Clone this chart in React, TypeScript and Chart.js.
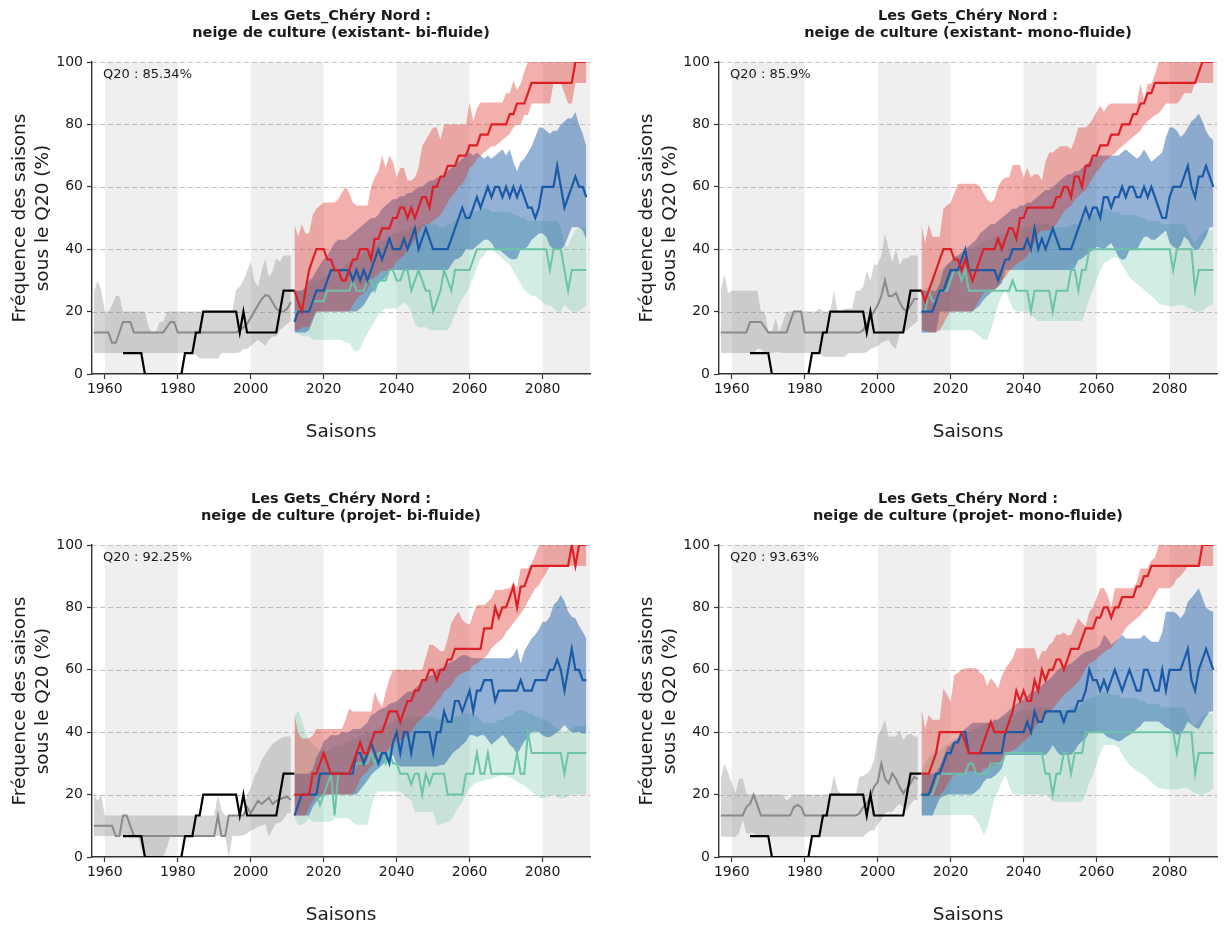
import React, { useEffect, useRef } from "react";
import { Chart, registerables } from "chart.js";

Chart.register(...registerables);

const FONT = "'DejaVu Sans', 'Liberation Sans', sans-serif";

const HIST_START = 1957;
const OBS_START = 1965;
const PROJ_START = 2012;
const X_MIN = 1956.5;
const X_MAX = 2093;
const X_TICKS = [1960, 1980, 2000, 2020, 2040, 2060, 2080];
const Y_TICKS = [0, 20, 40, 60, 80, 100];
const Y_GRID = [20, 40, 60, 80, 100];
const SHADED_PERIODS = [[1960, 1980], [2000, 2020], [2040, 2060], [2080, 2100]];

const TITLE_LINE_1 = "Les Gets_Chéry Nord :";
const SUBTITLES = [
  "neige de culture (existant- bi-fluide)",
  "neige de culture (existant- mono-fluide)",
  "neige de culture (projet- bi-fluide)",
  "neige de culture (projet- mono-fluide)",
];
const Q20_LABELS = ["Q20 : 85.34%", "Q20 : 85.9%", "Q20 : 92.25%", "Q20 : 93.63%"];
const Y_TITLE = ["Fréquence des saisons", "sous le Q20 (%)"];
const X_TITLE = "Saisons";

// Observed frequency (1965-2012)
const OBS = [
  6.7, 6.7, 6.7, 6.7, 6.7,
  6.7, 0, 0, 0, 0, 0, 0, 0, 0, 0,
  0, 0, 6.7, 6.7, 6.7, 13.3, 13.3, 20, 20, 20,
  20, 20, 20, 20, 20, 20, 20, 13.3, 20, 13.3,
  13.3, 13.3, 13.3, 13.3, 13.3, 13.3, 13.3, 13.3, 20, 26.7,
  26.7, 26.7, 26.7,
];

// ---------- Panel 1 : existant bi-fluide ----------
const P1_HIST = [
  13.3, 13.3, 13.3,
  13.3, 13.3, 10, 10, 13.3, 16.7, 16.7, 16.7, 13.3, 13.3,
  13.3, 13.3, 13.3, 13.3, 13.3, 13.3, 13.3, 15, 16.7, 16.7,
  13.3, 13.3, 13.3, 13.3, 13.3, 13.3, 13.3, 13.3, 13.3, 13.3,
  13.3, 13.3, 13.3, 13.3, 13.3, 13.3, 13.3, 14, 15, 16,
  18, 20, 22, 24, 25.3, 25, 23, 21, 20, 20,
  21, 23,
];
const P1_HIST_HI = [
  26, 30, 27,
  20, 20, 22, 25, 25, 20, 20, 20, 20, 20,
  20, 20, 15, 13.3, 13.3, 16.7, 16.7, 20, 20, 20,
  20, 20, 20, 20, 20, 20, 20, 20, 20, 20,
  20, 20, 20, 20, 20, 20, 27, 28, 30, 33,
  36, 30, 28, 33, 37, 31, 33, 37, 36, 38,
  38, 38,
];
const P1_HIST_LO = [
  6.7, 6.7, 6.7,
  6.7, 6.7, 6.7, 6.7, 6.7, 6.7, 6.7, 6.7, 6.7, 6.7,
  6.7, 6.7, 6.7, 6.7, 6.7, 6.7, 6.7, 6.7, 6.7, 6.7,
  6.7, 6.7, 6.7, 6.7, 6.7, 6, 5, 5, 5, 5,
  5, 5, 6.7, 6.7, 6.7, 6.7, 6.7, 7, 8, 8,
  9, 10, 11, 10, 9, 11, 12, 12, 14, 15,
  16, 17,
];
const P1_RED = [
  26.7, 23.3, 20, 26.7, 33.3, 36.7, 40, 40,
  40, 36.7, 36.7, 33.3, 33.3, 30, 30, 33.3, 36.7, 36.7,
  40, 40, 40, 36.7, 43.3, 43.3, 46.7, 46.7, 46.7, 50,
  50, 53.3, 53.3, 50, 53.3, 50, 53.3, 56.7, 56.7, 53.3,
  60, 60, 63.3, 63.3, 66.7, 66.7, 66.7, 70, 70, 70,
  73.3, 73.3, 73.3, 76.7, 76.7, 76.7, 80, 80, 80, 80,
  80, 83.3, 83.3, 86.7, 86.7, 86.7, 90, 93.3, 93.3, 93.3,
  93.3, 93.3, 93.3, 93.3, 93.3, 93.3, 93.3, 93.3, 93.3, 100,
  100, 100, 100,
];
const P1_RED_HI = [
  48, 44, 48, 45, 45, 51, 53, 54,
  55, 55, 55, 55, 56, 58, 60, 58, 55, 54,
  54, 54, 54, 60, 63, 65, 70, 66, 70, 68,
  63, 66, 66, 62, 62, 63, 66, 73, 75, 77,
  79, 79, 75, 80, 80, 80, 80, 80, 80, 80,
  87, 81, 85, 87, 87, 87, 87, 87, 87, 87,
  90, 90, 94, 91, 93, 97, 100, 100, 100, 100,
  100, 100, 100, 100, 100, 100, 100, 100, 100, 100,
  100, 100, 100,
];
const P1_RED_LO = [
  14, 14, 15, 15, 15, 18, 20, 20,
  20, 20, 20, 20, 20, 20, 20, 20, 22, 24,
  25, 26, 27, 30, 31, 32, 33, 33, 33, 34,
  36, 37, 38, 40, 41, 43, 45, 47, 48, 48,
  49, 50, 51, 53, 55, 57, 58, 60, 61, 63,
  66, 67, 69, 70, 71, 72, 73, 73, 74, 75,
  76, 77, 79, 80, 80, 83, 83, 86.7, 86.7, 86.7,
  86.7, 86.7, 86.7, 93.3, 93.3, 93.3, 90, 86.7, 86.7, 93.3,
  93.3, 93.3, 93.3,
];
const P1_BLUE = [
  16.7, 20, 20, 20, 20, 23.3, 26.7, 26.7,
  26.7, 30, 33.3, 33.3, 33.3, 33.3, 33.3, 33.3, 30, 33.3,
  30, 33.3, 30, 33.3, 36.7, 40, 36.7, 40, 43.3, 40,
  40, 40, 43.3, 40, 43.3, 46.7, 40, 43.3, 46.7, 43.3,
  40, 40, 40, 40, 40, 43.3, 46.7, 50, 53.3, 50,
  50, 53.3, 56.7, 53.3, 56.7, 60, 56.7, 60, 60, 56.7,
  60, 56.7, 60, 56.7, 60, 56.7, 53.3, 53.3, 50, 53.3,
  60, 60, 60, 60, 66.7, 60, 53.3, 56.7, 60, 63.3,
  60, 60, 56.7,
];
const P1_BLUE_HI = [
  26.7, 26.7, 26.7, 28, 30, 31, 33, 35,
  36.7, 38, 40, 42, 43, 43, 43, 44, 45, 46,
  47, 48, 49, 50, 50, 51, 53, 54, 55, 56,
  56, 57, 57, 58, 58, 59, 60, 60, 61, 62,
  62, 63, 63, 64, 65, 66, 67, 68, 69, 70,
  71, 70, 71, 70, 69, 70, 69, 70, 71, 72,
  70, 72, 68, 65, 68, 69, 71, 73, 76, 79,
  79, 78, 77, 78, 78, 80, 81, 82, 82, 84,
  80, 77, 73,
];
const P1_BLUE_LO = [
  13.3, 13.3, 13.3, 13.3, 14, 17, 20, 20,
  20, 20, 20, 20, 20, 20, 20, 20, 20, 20,
  21, 22, 24, 26, 27, 29, 30, 31, 33.3, 33.3,
  33.3, 33.3, 33.3, 33.3, 33.3, 33.3, 33.3, 33.3, 33.3, 33.3,
  33.3, 33.3, 33.3, 33.3, 33.3, 35, 36.7, 37, 38, 40,
  40, 40, 41, 42, 43, 43, 42, 40, 40, 39,
  38, 37, 36.7, 37, 40, 40, 41, 43, 44, 45,
  45, 44, 41, 40, 40, 40, 41, 44, 47, 47,
  47, 46, 43,
];
const P1_TEAL = [
  20, 20, 20, 20, 20, 23.3, 23.3, 23.3,
  23.3, 26.7, 26.7, 26.7, 26.7, 26.7, 26.7, 26.7, 30, 26.7,
  26.7, 26.7, 30, 30, 26.7, 30, 30, 30, 33.3, 33.3,
  30, 30, 33.3, 33.3, 26.7, 30, 33.3, 30, 26.7, 26.7,
  20, 23.3, 26.7, 33.3, 30, 26.7, 33.3, 33.3, 33.3, 33.3,
  33.3, 36.7, 40, 40, 40, 40, 40, 40, 40, 40,
  40, 40, 40, 40, 40, 40, 40, 40, 40, 40,
  40, 40, 33.3, 40, 40, 40, 33.3, 26.7, 33.3, 33.3,
  33.3, 33.3, 33.3,
];
const P1_TEAL_HI = [
  26.7, 26.7, 26.7, 27, 28, 30, 30, 30,
  31, 32, 33, 33, 33, 34, 35, 36, 36, 37,
  38, 39, 40, 40, 41, 42, 43, 43, 44, 45,
  45, 45, 46, 46, 47, 47, 47, 48, 48, 48,
  48, 48, 47, 47, 48, 48, 49, 50, 51, 51,
  52, 52, 52, 53, 53, 53, 52, 52, 52, 52,
  52, 52, 51, 51, 50, 50, 49, 49, 49, 49,
  49, 49, 49, 49, 49, 47, 41, 41, 44, 46,
  47, 47, 46,
];
const P1_TEAL_LO = [
  13.3, 13, 12, 12, 12, 11, 11, 11,
  11, 11, 11, 11, 11, 11, 10, 10, 8, 7,
  8, 11, 13, 15, 17, 19, 20, 21, 21, 21,
  21, 22, 23, 22, 20, 16, 15, 15, 15, 14,
  14, 14, 14, 14, 14, 16, 19, 22, 24, 26,
  28, 31, 34, 37, 38, 40, 40, 39, 38, 37,
  36, 35, 33, 31, 29, 27, 26, 25, 25, 24,
  23, 22, 22, 21, 20, 20, 22, 21, 20, 20,
  20, 21, 22,
];

// ---------- Panel 2 : existant mono-fluide ----------
const P2_HIST = [
  13.3, 13.3, 13.3,
  13.3, 13.3, 13.3, 13.3, 13.3, 16.7, 16.7, 16.7, 16.7, 15,
  13.3, 13.3, 13.3, 13.3, 13.3, 13.3, 16.7, 20, 20, 20,
  13.3, 13.3, 13.3, 13.3, 13.3, 13.3, 13.3, 13.3, 13.3, 13.3,
  13.3, 13.3, 13.3, 13.3, 13.3, 13.3, 14, 16, 18, 20,
  22, 25, 30, 25, 25, 26, 23, 21, 20, 22,
  24, 24,
];
const P2_HIST_HI = [
  27, 32, 26,
  26.7, 26.7, 26.7, 26.7, 26.7, 26.7, 26.7, 26.7, 20, 20,
  14, 13.3, 18, 13.3, 16.7, 20, 20, 20, 20, 20,
  20, 20, 20, 20, 21, 20, 20, 20, 26.7, 20,
  20, 21, 21, 21, 26.7, 26.7, 28, 33, 30, 35,
  35, 38, 45, 40, 36, 40, 35, 37, 37, 38,
  38, 38,
];
const P2_HIST_LO = [
  6.7, 6.7, 6.7,
  6.7, 6.7, 6.7, 6.7, 6.7, 6.7, 6.7, 8, 8, 6.7,
  6.7, 6.7, 7, 7, 6.7, 6.7, 6.7, 6.7, 6.7, 6.7,
  6.7, 6.7, 6.7, 6.7, 6.7, 5.5, 5.5, 5.5, 5.5, 5.5,
  5.5, 5.5, 6.7, 6.7, 6.7, 6.7, 6.7, 7, 8, 8.5,
  9, 10, 10.5, 11, 9, 8, 13, 13.5, 14, 15,
  16, 17,
];
const P2_RED = [
  26.7, 23.3, 26.7, 30, 33.3, 36.7, 40, 40,
  40, 36.7, 36.7, 33.3, 36.7, 33.3, 30, 33.3, 36.7, 40,
  40, 40, 40, 43.3, 40, 43.3, 46.7, 46.7, 43.3, 50,
  50, 53.3, 53.3, 53.3, 53.3, 53.3, 53.3, 53.3, 53.3, 56.7,
  56.7, 60, 60, 56.7, 63.3, 63.3, 60, 66.7, 66.7, 70,
  70, 73.3, 73.3, 73.3, 76.7, 76.7, 76.7, 80, 80, 80,
  83.3, 83.3, 86.7, 86.7, 90, 90, 93.3, 93.3, 93.3, 93.3,
  93.3, 93.3, 93.3, 93.3, 93.3, 93.3, 93.3, 93.3, 96.7, 100,
  100, 100, 100,
];
const P2_RED_HI = [
  48, 42, 48, 44, 44, 44, 53, 54,
  55, 58, 61, 61, 61, 61, 61, 61, 60, 58,
  56, 55, 56, 60, 62, 63, 63, 67, 67, 67,
  63, 66, 63, 64, 64, 62, 68, 71, 71, 72,
  73, 73, 73, 72, 75, 79, 79, 79, 80, 82,
  84, 86, 84, 86, 86.7, 86.7, 86.7, 86.7, 86.7, 86.7,
  86.7, 86.7, 93, 88, 93, 93, 96, 100, 100, 100,
  100, 100, 100, 100, 100, 100, 100, 100, 100, 100,
  100, 100, 100,
];
const P2_RED_LO = [
  14, 14, 13.3, 13.3, 13.3, 14, 16, 18.4,
  20, 20, 20, 20, 20, 20, 20, 22, 24, 26,
  27, 27, 27, 28, 30, 31, 33, 34, 35, 36,
  36.5, 38, 39.7, 42, 45, 46, 46, 46, 47, 48,
  50, 52, 53, 54, 55.8, 57, 58, 59, 61, 63,
  65, 66, 68, 69, 70, 70.7, 72, 73, 74, 75,
  76, 77, 78, 80, 81, 82, 83, 83.5, 85, 86.7,
  86.7, 86.7, 86.7, 88, 90, 90, 90, 93.3, 93.3, 93.3,
  93.3, 93.3, 93.3,
];
const P2_BLUE = [
  20, 20, 20, 20, 23.3, 26.7, 26.7, 30,
  33.3, 33.3, 33.3, 36.7, 40, 33.3, 33.3, 33.3, 33.3, 33.3,
  33.3, 33.3, 33.3, 30, 33.3, 36.7, 36.7, 40, 40, 40,
  40, 43.3, 40, 46.7, 40, 43.3, 40, 43.3, 46.7, 43.3,
  40, 40, 40, 40, 43.3, 46.7, 50, 53.3, 50, 53.3,
  53.3, 50, 56.7, 56.7, 53.3, 56.7, 56.7, 60, 56.7, 60,
  60, 56.7, 56.7, 60, 56.7, 60, 56.7, 53.3, 50, 50,
  56.7, 60, 60, 60, 63.3, 66.7, 60, 56.7, 63.3, 63.3,
  66.7, 63.3, 60,
];
const P2_BLUE_HI = [
  26.7, 26.7, 26.7, 26.7, 26.7, 29, 33.3, 35,
  36, 37.6, 38, 39, 40, 41, 42, 43, 45, 46,
  47, 48, 48, 49, 50, 51, 52, 53, 53, 54,
  54, 55, 55, 56, 57, 58, 59, 59, 60, 61,
  62, 63, 64, 64, 65, 65, 66, 67, 68, 69,
  70, 70, 70, 70, 70, 70, 70, 71, 72, 71,
  70, 69, 70, 72, 70, 68, 69, 70, 71, 76,
  79, 79, 78, 76, 77, 79, 81, 82, 83.5, 81,
  78, 76, 75,
];
const P2_BLUE_LO = [
  13.3, 13.3, 13.3, 13.3, 13.3, 20, 20, 20,
  20, 20, 20, 20, 20, 20, 20, 21, 22, 23.7,
  25, 26, 27, 28, 29, 33.3, 33.3, 33.3, 33.3, 33.3,
  33.3, 33.3, 33.3, 33.3, 33.3, 33.3, 33.3, 33.3, 33.3, 33.3,
  33.3, 33.3, 33.3, 33.3, 34, 36.5, 37, 38, 39, 39.7,
  40.8, 40.5, 39.7, 41, 41.9, 40, 37.6, 36.5, 37, 39.7,
  39.7, 39.7, 42, 44, 44, 43, 43, 44, 45, 46,
  42, 40.8, 40, 41, 44, 43, 41, 39.7, 40, 42,
  44, 47, 47,
];
const P2_TEAL = [
  20, 20, 26.7, 23.3, 23.3, 26.7, 26.7, 26.7,
  30, 33.3, 33.3, 30, 33.3, 26.7, 26.7, 26.7, 26.7, 26.7,
  26.7, 26.7, 26.7, 26.7, 26.7, 26.7, 26.7, 30, 26.7, 26.7,
  26.7, 26.7, 20, 26.7, 26.7, 26.7, 26.7, 26.7, 20, 26.7,
  26.7, 26.7, 26.7, 33.3, 33.3, 26.7, 33.3, 33.3, 40, 40,
  40, 40, 40, 40, 40, 40, 40, 40, 40, 40,
  40, 40, 40, 40, 40, 40, 40, 40, 40, 40,
  40, 33.3, 40, 40, 40, 40, 40, 26.7, 33.3, 33.3,
  33.3, 33.3, 33.3,
];
const P2_TEAL_HI = [
  26.7, 27, 28, 30, 32, 33, 34, 35,
  36, 37, 38, 38, 39, 40, 40, 41, 42, 42,
  43, 43, 44, 44, 45, 45, 46, 46, 46, 47,
  47, 47, 47, 48, 48, 48, 48, 48, 47, 47,
  47, 47, 47, 48, 48, 48, 49, 50, 51, 51,
  52, 52, 53, 53, 52, 52, 52, 51, 51, 51,
  51, 51, 50, 50, 49, 49, 49, 49, 48, 48,
  48, 48, 48, 48, 48, 46, 43, 42, 44, 45,
  46, 46, 46,
];
const P2_TEAL_LO = [
  13.3, 13.3, 13.3, 14, 14, 14, 14, 14,
  14, 14, 14, 14, 14, 14, 14, 13, 12, 11,
  11, 14, 18, 22, 25, 27, 24, 21, 20, 20,
  20, 20, 19, 18, 17, 17, 17, 17, 17, 17,
  17, 17, 17, 17, 17, 17, 17, 20, 24, 27,
  30, 33, 35.5, 36, 37, 37.6, 37, 35, 33, 31,
  30, 29, 28, 27, 26, 25, 24, 22.6, 22, 22,
  21.6, 21.6, 22, 22, 22, 21, 21, 20, 20, 20,
  21, 22, 22,
];

// ---------- Panel 3 : projet bi-fluide ----------
const P3_HIST = [
  10, 10, 10,
  10, 10, 10, 6.7, 6.7, 13.3, 13.3, 10, 6.7, 6.7,
  6.7, 6.7, 6.7, 6.7, 6.7, 6.7, 6.7, 6.7, 6.7, 6.7,
  6.7, 6.7, 6.7, 6.7, 6.7, 6.7, 6.7, 6.7, 6.7, 6.7,
  6.7, 13.3, 6.7, 6.7, 13.3, 13.3, 13.3, 13.3, 13.3, 16,
  14, 16, 18, 17, 18, 19, 17, 18, 18.5, 19,
  19.3, 18.3,
];
const P3_HIST_HI = [
  20, 18, 20,
  13.3, 13.3, 13.3, 13.3, 13.3, 13.3, 13.3, 13.3, 13.3, 13.3,
  13.3, 13.3, 13.3, 13.3, 13.3, 13.3, 13.3, 13.3, 13.3, 13.3,
  13.3, 13.3, 13.3, 13.3, 13.3, 13.3, 13.3, 13.3, 13.3, 13.3,
  13.3, 20, 15, 13.3, 13.3, 13.3, 13.3, 13.3, 13.3, 20,
  22, 25.7, 28, 31, 33, 34.5, 36.4, 37, 38, 38.5,
  38.6, 38.6,
];
const P3_HIST_LO = [
  6.7, 6.7, 6.7,
  6.7, 6.7, 6.7, 6.7, 6.7, 6.7, 6.7, 6.7, 6.7, 6.7,
  3, 0, 0, 0, 0, 0, 0, 3, 6.7, 6.7,
  6.7, 6.7, 6.7, 6.7, 6.7, 6.7, 6.7, 6.7, 6.7, 6.7,
  6.7, 6.7, 6.7, 6.7, 0, 6.7, 6.7, 6.7, 7, 7.5,
  8.5, 9, 9.7, 10, 10.5, 6.5, 9, 10.8, 11, 12,
  14, 14,
];
const P3_RED = [
  20, 20, 20, 20, 20, 26.7, 26.7, 30,
  33.3, 30, 26.7, 26.7, 26.7, 26.7, 26.7, 26.7, 30, 33.3,
  36.7, 33.3, 33.3, 36.7, 40, 40, 40, 43.3, 46.7, 46.7,
  46.7, 43.3, 46.7, 50, 50, 53.3, 53.3, 56.7, 56.7, 60,
  60, 56.7, 60, 60, 63.3, 63.3, 66.7, 66.7, 66.7, 66.7,
  66.7, 66.7, 66.7, 66.7, 73.3, 73.3, 73.3, 80, 76.7, 80,
  80, 83.3, 86.7, 80, 86.7, 86.7, 90, 93.3, 93.3, 93.3,
  93.3, 93.3, 93.3, 93.3, 93.3, 93.3, 93.3, 93.3, 100, 93.3,
  100, 100, 100,
];
const P3_RED_HI = [
  45.5, 40, 38, 38, 38, 39, 41, 41,
  41, 41, 41, 41, 41, 41, 44, 47.6, 46.6, 46.6,
  46.6, 46.6, 46.6, 46.6, 53, 50, 48, 53, 57, 60,
  60, 60, 60, 60, 60, 60, 60, 60, 64, 68,
  68, 67, 66, 66, 70, 75, 77, 78.6, 76, 75,
  74.4, 78, 80.8, 80.8, 80.8, 81.8, 83, 85.6, 85.6, 85.6,
  86, 86.1, 88, 86.1, 92.5, 92.5, 92.5, 94, 96.8, 100,
  100, 100, 100, 100, 100, 100, 100, 100, 100, 100,
  100, 100, 100,
];
const P3_RED_LO = [
  13.3, 13.3, 13.3, 13.3, 16, 18, 20, 20,
  20, 20, 20, 20, 20, 20, 20, 20, 20, 22,
  25, 26.3, 27.5, 29, 30, 31, 32, 33, 35, 35.9,
  37, 37.5, 38, 39, 40, 42, 43.4, 44.5, 45.5, 46.6,
  48, 49.8, 51, 53, 54, 55, 57, 58.3, 59, 59.4,
  60, 61.5, 62, 63, 63.7, 65, 66.9, 68, 69, 70,
  72, 73.3, 75, 76.5, 78, 79.7, 82, 84, 86.1, 87,
  89.3, 91, 93.3, 93.3, 93.3, 93.3, 93.3, 93.3, 93.3, 93.3,
  93.3, 93.3, 93.3,
];
const P3_BLUE = [
  13.3, 16.7, 20, 20, 20, 20, 20, 26.7,
  26.7, 26.7, 26.7, 26.7, 26.7, 26.7, 26.7, 26.7, 26.7, 33.3,
  33.3, 30, 33.3, 36.7, 33.3, 30, 33.3, 33.3, 30, 36.7,
  40, 33.3, 40, 40, 33.3, 40, 40, 40, 40, 40,
  33.3, 40, 40, 46.7, 43.3, 43.3, 50, 50, 46.7, 50,
  53.3, 46.7, 53.3, 53.3, 56.7, 56.7, 56.7, 50, 53.3, 53.3,
  53.3, 53.3, 53.3, 53.3, 56.7, 53.3, 53.3, 53.3, 56.7, 56.7,
  56.7, 56.7, 60, 60, 63.3, 60, 53.3, 60, 66.7, 60,
  60, 56.7, 56.7,
];
const P3_BLUE_HI = [
  26.7, 26.7, 26.7, 26.7, 26.7, 28, 32, 34,
  37, 38, 39, 39, 39, 40, 40, 40, 41, 41,
  41, 42, 43, 45.5, 46, 47, 47.6, 48, 49, 49.5,
  49.8, 51, 52, 53, 53, 54, 55, 56.2, 57, 58,
  58.3, 60, 60.5, 61, 62, 62.6, 63, 64, 64.7, 64.7,
  64, 63.7, 63.7, 63.7, 63.7, 63.7, 63.7, 63.7, 63.7, 63.7,
  63.7, 63.7, 64.7, 66.9, 62, 66, 68, 70, 71.2, 73,
  75.4, 75.4, 77, 80.8, 82, 84, 82, 78.6, 77, 76.5,
  74, 72.2, 70,
];
const P3_BLUE_LO = [
  13.3, 13.3, 13.3, 13.3, 13.3, 16, 17.7, 19,
  20, 20, 20, 20, 20, 20, 20, 20, 20, 20,
  21.5, 23, 24.5, 26.3, 27.5, 28.4, 29.5, 30.5, 31.5, 32.7,
  30, 29, 29, 29, 29, 29, 29, 29, 29, 29,
  29, 29, 29.5, 29.5, 31, 32.7, 34, 34.8, 36, 37,
  39.1, 39, 38.5, 39, 39.1, 37.5, 36, 37, 38, 39.1,
  38, 36, 35, 32.7, 35, 37, 38.5, 40, 40.2, 40,
  39, 38.5, 38.5, 39.1, 40, 41, 42.3, 41, 40, 40,
  40, 39.6, 39.6,
];
const P3_TEAL = [
  20, 20, 20, 20, 20, 20, 20, 16.7,
  20, 23.3, 26.7, 13.3, 26.7, 26.7, 26.7, 26.7, 26.7, 30,
  30, 30, 30, 33.3, 30, 33.3, 33.3, 30, 33.3, 30,
  30, 26.7, 26.7, 26.7, 23.3, 26.7, 26.7, 20, 26.7, 23.3,
  26.7, 26.7, 26.7, 26.7, 20, 20, 20, 20, 20, 26.7,
  26.7, 26.7, 33.3, 26.7, 26.7, 33.3, 26.7, 26.7, 26.7, 26.7,
  26.7, 26.7, 26.7, 33.3, 26.7, 26.7, 40, 33.3, 33.3, 33.3,
  33.3, 33.3, 33.3, 33.3, 33.3, 33.3, 26.7, 33.3, 33.3, 33.3,
  33.3, 33.3, 33.3,
];
const P3_TEAL_HI = [
  45, 47, 44, 40, 38, 36, 35, 34,
  34, 34, 35, 35, 36, 36, 37, 37, 38, 38,
  39, 39, 40, 40, 41, 41, 42, 42, 43, 43,
  44, 44, 44, 45, 45, 45, 45, 45, 45, 45,
  45, 44, 44, 44, 44, 44, 45, 45, 46, 46,
  46, 46, 45, 44, 43, 43, 43, 43, 44, 44,
  45, 45, 46, 47, 47, 47, 46, 46, 45, 45,
  44, 44, 43, 42, 41, 41, 40, 41, 41, 42,
  42, 42, 42,
];
const P3_TEAL_LO = [
  12.4, 10.3, 10.3, 11, 12.4, 11.3, 11.3, 11.3,
  11.3, 11.3, 11.3, 12.4, 12.4, 12.4, 12.4, 12.4, 11, 10.3,
  10.3, 10.3, 10.3, 15.6, 20, 21, 21, 21, 21, 21,
  21, 21, 20, 19, 18, 14.5, 14.5, 14.5, 14.5, 14.5,
  14.5, 10.3, 10.3, 11, 11.3, 12, 14, 16, 17.7, 20,
  22, 23, 24, 24.1, 24.5, 25, 25, 25.5, 26, 26.3,
  26, 25.5, 25, 24, 23.5, 23, 22, 21, 20, 19,
  18.8, 19, 19.5, 20, 19, 18.8, 18.8, 19.5, 20, 20,
  20, 20, 20,
];

// ---------- Panel 4 : projet mono-fluide ----------
const P4_HIST = [
  13.3, 13.3, 13.3,
  13.3, 13.3, 13.3, 13.3, 16, 17, 20, 16.7, 13.3, 13.3,
  13.3, 13.3, 13.3, 13.3, 13.3, 13.3, 13.3, 16, 16.7, 16,
  13.3, 13.3, 13.3, 13.3, 13.3, 13.3, 13.3, 13.3, 13.3, 13.3,
  13.3, 13.3, 13.3, 13.3, 13.3, 14, 16, 17, 19.3, 22.5,
  24, 30, 25, 23.6, 26.8, 25, 22.5, 20.4, 22, 23.6,
  25.7, 25,
];
const P4_HIST_HI = [
  25.2, 30, 27,
  23.6, 20.4, 25.2, 25.2, 20.4, 20, 20, 20, 20, 20,
  20, 20, 20, 20, 20, 18, 19, 20, 20, 20,
  20, 20, 20, 20, 20, 20, 20, 20, 26.3, 21.5,
  20, 20, 20, 20, 20, 25.7, 26, 26.8, 28, 31,
  38.6, 41, 44, 38.6, 38.6, 38.6, 40.7, 37.5, 39, 39.6,
  38.6, 38.6,
];
const P4_HIST_LO = [
  6.5, 6.5, 6.5,
  6.5, 6.5, 7.6, 11.9, 7.6, 7.6, 7.6, 6.5, 6.5, 6.5,
  6.5, 6.5, 6.5, 6.5, 6.5, 6.5, 6.5, 6.5, 6.5, 6.5,
  6.5, 6.5, 6.5, 6.5, 6.5, 6.5, 6.5, 6.5, 6.5, 6.5,
  6.5, 6.5, 6.5, 6.5, 6.5, 6.5, 6.5, 7.6, 8.5, 8.5,
  10.5, 11.9, 14, 14.5, 14.5, 16, 17, 16, 15, 17,
  18.3, 18.3,
];
const P4_RED = [
  26.7, 26.7, 26.7, 30, 33.3, 40, 40, 40,
  40, 40, 40, 40, 36.7, 33.3, 33.3, 33.3, 33.3, 36.7,
  40, 43.3, 40, 40, 40, 40, 43.3, 46.7, 53.3, 50,
  53.3, 50, 50, 56.7, 53.3, 60, 56.7, 60, 60, 63.3,
  63.3, 60, 63.3, 66.7, 66.7, 66.7, 70, 73.3, 73.3, 73.3,
  76.7, 76.7, 80, 80, 76.7, 80, 80, 83.3, 83.3, 83.3,
  83.3, 86.7, 86.7, 90, 90, 93.3, 93.3, 93.3, 93.3, 93.3,
  93.3, 93.3, 93.3, 93.3, 93.3, 93.3, 93.3, 93.3, 93.3, 100,
  100, 100, 100,
];
const P4_RED_HI = [
  47.6, 41.2, 45.5, 44, 44, 44, 54, 52,
  49.8, 58.3, 59, 60, 60.5, 60.5, 60.5, 60.5, 59, 58.3,
  55, 57.3, 56, 54, 58, 60.5, 62, 63.7, 66.9, 66.9,
  66.9, 66.9, 66.9, 66.9, 63, 66, 66, 68, 69, 71.2,
  71.2, 72, 71, 71.2, 74, 76.5, 75, 74, 78.6, 80,
  83, 86.1, 86.1, 84, 80, 86.1, 86.1, 86.1, 86.1, 86.1,
  86.1, 88, 92.5, 92.5, 92.5, 95, 96, 100, 100, 100,
  100, 100, 100, 100, 100, 100, 100, 100, 100, 100,
  100, 100, 100,
];
const P4_RED_LO = [
  19.5, 19.5, 19.5, 19.5, 19.5, 19.5, 21, 23,
  25, 26.3, 26.3, 26.3, 27, 27.5, 27.5, 27, 26.3, 28.4,
  28.4, 29, 29.5, 30, 31, 32.7, 33.5, 34.2, 34.8, 36,
  37, 38, 39.5, 41.2, 43, 44, 45.5, 46.5, 47.6, 49,
  50.5, 51.9, 53, 54, 55, 56.2, 58, 60.5, 62, 62.6,
  63.5, 64.7, 65.5, 66.5, 66.9, 68.5, 70, 71.5, 73.3, 74.5,
  75.5, 76.5, 77.5, 79, 79.7, 82, 84, 86.1, 86.1, 86.1,
  86.1, 87, 89.3, 90, 91.5, 93.3, 93.3, 93.3, 93.3, 93.3,
  93.3, 93.3, 93.3,
];
const P4_BLUE = [
  20, 20, 20, 23.3, 26.7, 26.7, 30, 33.3,
  33.3, 36.7, 36.7, 40, 40, 33.3, 33.3, 33.3, 33.3, 33.3,
  33.3, 33.3, 33.3, 33.3, 33.3, 40, 40, 40, 40, 40,
  40, 43.3, 40, 46.7, 43.3, 43.3, 46.7, 46.7, 46.7, 46.7,
  46.7, 43.3, 46.7, 46.7, 46.7, 50, 50, 53.3, 60, 56.7,
  56.7, 53.3, 56.7, 53.3, 56.7, 60, 56.7, 53.3, 56.7, 60,
  56.7, 53.3, 53.3, 60, 60, 56.7, 53.3, 53.3, 60, 53.3,
  60, 60, 60, 60, 63.3, 66.7, 56.7, 53.3, 60, 63.3,
  66.7, 63.3, 60,
];
const P4_BLUE_HI = [
  26.7, 26.7, 26.7, 26.7, 27, 29, 32, 35,
  36, 37, 38, 40, 41, 42, 43, 43, 43, 43,
  43, 43, 44, 44, 45, 46, 47, 48, 49, 49.8,
  50.5, 51.5, 53, 53, 54, 55, 56, 57, 58, 59.5,
  60.5, 61, 61.5, 62, 63, 64, 65, 65.8, 66, 66.5,
  66.9, 68, 71.2, 70, 68, 69, 70, 71.2, 70, 70,
  70, 70, 70, 71.2, 70, 69, 69, 69, 72, 78.6,
  78.6, 78.6, 78, 76.5, 78, 81.8, 83, 84.5, 86.1, 83,
  80, 79, 78.6,
];
const P4_BLUE_LO = [
  13.3, 13.3, 13.3, 13.3, 16, 18.8, 19.5, 20,
  20, 20, 20, 20, 20, 20, 20, 21, 22, 24,
  25.2, 25.2, 26, 27, 28.4, 32.7, 32.7, 32.7, 32.7, 32.7,
  32.7, 32.7, 32.7, 32.7, 32.7, 32.7, 32.7, 34, 35.9, 34,
  32.7, 32.7, 32.7, 32.7, 34, 36, 37, 38, 40, 40.2,
  40.2, 40, 39.5, 38.5, 38, 37.5, 37, 37.5, 38.5, 39.1,
  40, 41, 42, 43.4, 43.4, 43.4, 43.4, 43.4, 42.5, 41.5,
  41, 40, 39.1, 39.5, 41, 43.4, 42.5, 41.5, 41, 43,
  45, 46.6, 46.6,
];
const P4_TEAL = [
  20, 20, 20, 20, 23.3, 26.7, 26.7, 26.7,
  26.7, 26.7, 26.7, 26.7, 26.7, 30, 30, 26.7, 26.7, 26.7,
  26.7, 30, 30, 30, 30, 33.3, 33.3, 33.3, 33.3, 33.3,
  33.3, 33.3, 33.3, 33.3, 33.3, 33.3, 26.7, 26.7, 20, 26.7,
  26.7, 33.3, 33.3, 26.7, 33.3, 33.3, 33.3, 40, 40, 40,
  40, 40, 40, 40, 40, 40, 40, 40, 40, 40,
  40, 40, 40, 40, 40, 40, 40, 40, 40, 40,
  40, 40, 33.3, 40, 40, 40, 40, 26.7, 33.3, 33.3,
  33.3, 33.3, 33.3,
];
const P4_TEAL_HI = [
  28, 30, 32, 33, 34, 34, 35, 36,
  37, 38, 38, 39, 40, 40, 41, 41, 42, 42,
  43, 43, 44, 44, 45, 45, 46, 46, 46, 47,
  47, 47, 47, 48, 48, 48, 48, 48, 47, 47,
  47, 47, 47, 48, 48, 48, 49, 50, 51, 51,
  52, 52, 53, 53, 52, 52, 52, 51, 51, 51,
  51, 51, 50, 50, 49, 49, 49, 49, 48, 48,
  48, 48, 48, 48, 48, 46, 43, 42, 44, 45,
  46, 46, 46,
];
const P4_TEAL_LO = [
  13.3, 13.3, 13.3, 13.3, 13.5, 13.5, 13.5, 13.5,
  13.5, 13.5, 13.5, 13.5, 13.5, 13.5, 13.5, 12, 10, 7,
  9, 14, 18.8, 21, 24, 26.3, 23, 20, 20, 20,
  20, 20, 20, 20, 20, 20, 20, 19, 17.7, 17.7,
  17.7, 17.7, 17.7, 17.7, 17.7, 17.7, 17.7, 20, 24, 26.3,
  30, 33, 35.9, 35.9, 35.9, 35.9, 35, 33, 31, 29.5,
  28.5, 27.5, 27, 26.3, 25, 24, 23, 22, 22, 21.6,
  21.6, 21.6, 21.6, 22, 22, 22, 21, 20.5, 20, 20,
  20.5, 21, 22,
];

// ---------- styles ----------
const SHADE_COLOR = "rgba(0,0,0,0.063)";
const GRID_COLOR = "rgba(170,170,170,0.7)";
const AXIS_COLOR = "#333333";
const TEXT_COLOR = "#1a1a1a";
const GRAY_BAND = "rgba(128,128,128,0.33)";
const GRAY_LINE = "#8a8a8a";
const TEAL_BAND = "rgba(102,194,165,0.3)";
const TEAL_LINE = "#6cc3aa";
const BLUE_BAND = "rgba(31,95,168,0.48)";
const BLUE_LINE = "#1a5aa6";
const RED_BAND = "rgba(222,45,38,0.38)";
const RED_LINE = "#dd1f26";

const CANVAS_W = 598;
const CANVAS_H = 444;
const Y_AXIS_W = 92;
const X_AXIS_H = 70;
const PAD_TOP = 62;
const PAD_RIGHT = 8;

type PanelData = {
  subtitle: string;
  q20: string;
  hist: number[]; histHi: number[]; histLo: number[];
  red: number[]; redHi: number[]; redLo: number[];
  blue: number[]; blueHi: number[]; blueLo: number[];
  teal: number[]; tealHi: number[]; tealLo: number[];
  left: number; top: number;
};

const PANELS: PanelData[] = [
  { subtitle: SUBTITLES[0], q20: Q20_LABELS[0], hist: P1_HIST, histHi: P1_HIST_HI, histLo: P1_HIST_LO,
    red: P1_RED, redHi: P1_RED_HI, redLo: P1_RED_LO, blue: P1_BLUE, blueHi: P1_BLUE_HI, blueLo: P1_BLUE_LO,
    teal: P1_TEAL, tealHi: P1_TEAL_HI, tealLo: P1_TEAL_LO, left: 0, top: 0 },
  { subtitle: SUBTITLES[1], q20: Q20_LABELS[1], hist: P2_HIST, histHi: P2_HIST_HI, histLo: P2_HIST_LO,
    red: P2_RED, redHi: P2_RED_HI, redLo: P2_RED_LO, blue: P2_BLUE, blueHi: P2_BLUE_HI, blueLo: P2_BLUE_LO,
    teal: P2_TEAL, tealHi: P2_TEAL_HI, tealLo: P2_TEAL_LO, left: 627, top: 0 },
  { subtitle: SUBTITLES[2], q20: Q20_LABELS[2], hist: P3_HIST, histHi: P3_HIST_HI, histLo: P3_HIST_LO,
    red: P3_RED, redHi: P3_RED_HI, redLo: P3_RED_LO, blue: P3_BLUE, blueHi: P3_BLUE_HI, blueLo: P3_BLUE_LO,
    teal: P3_TEAL, tealHi: P3_TEAL_HI, tealLo: P3_TEAL_LO, left: 0, top: 483 },
  { subtitle: SUBTITLES[3], q20: Q20_LABELS[3], hist: P4_HIST, histHi: P4_HIST_HI, histLo: P4_HIST_LO,
    red: P4_RED, redHi: P4_RED_HI, redLo: P4_RED_LO, blue: P4_BLUE, blueHi: P4_BLUE_HI, blueLo: P4_BLUE_LO,
    teal: P4_TEAL, tealHi: P4_TEAL_HI, tealLo: P4_TEAL_LO, left: 627, top: 483 },
];

function toPoints(start: number, values: number[]) {
  return values.map((y, i) => ({ x: start + i, y }));
}

function buildDatasets(p: PanelData) {
  const list: any[] = [];
  const band = (start: number, lo: number[], hi: number[], color: string) => {
    list.push({ data: toPoints(start, lo), borderColor: "rgba(0,0,0,0)", borderWidth: 1, pointRadius: 0, fill: false, backgroundColor: "rgba(0,0,0,0)" });
    list.push({ data: toPoints(start, hi), borderColor: "rgba(0,0,0,0)", borderWidth: 1, pointRadius: 0, fill: "-1", backgroundColor: color });
  };
  const line = (start: number, values: number[], color: string, width: number) => {
    list.push({ data: toPoints(start, values), borderColor: color, borderWidth: width, pointRadius: 0, fill: false, backgroundColor: color, borderJoinStyle: "miter" });
  };
  band(HIST_START, p.histLo, p.histHi, GRAY_BAND);
  line(HIST_START, p.hist, GRAY_LINE, 2);
  line(OBS_START, OBS, "#000000", 2.2);
  band(PROJ_START, p.tealLo, p.tealHi, TEAL_BAND);
  band(PROJ_START, p.blueLo, p.blueHi, BLUE_BAND);
  band(PROJ_START, p.redLo, p.redHi, RED_BAND);
  line(PROJ_START, p.teal, TEAL_LINE, 2);
  line(PROJ_START, p.blue, BLUE_LINE, 2.2);
  line(PROJ_START, p.red, RED_LINE, 2.2);
  return list.map((d, i) => ({ ...d, order: list.length - i, tension: 0 }));
}

function ChartPanel({ p }: { p: PanelData }) {
  const ref = useRef<HTMLCanvasElement | null>(null);
  useEffect(() => {
    const canvas = ref.current;
    if (!canvas) return;
    const decor = {
      id: "decor",
      beforeDraw(chart: any) {
        const { ctx, chartArea: a, scales } = chart;
        const xs = scales.x;
        const ys = scales.y;
        ctx.save();
        ctx.beginPath();
        ctx.rect(a.left, a.top, a.right - a.left, a.bottom - a.top);
        ctx.clip();
        ctx.fillStyle = SHADE_COLOR;
        for (const [s, e] of SHADED_PERIODS) {
          const x0 = xs.getPixelForValue(s);
          const x1 = xs.getPixelForValue(e);
          ctx.fillRect(x0, a.top, x1 - x0, a.bottom - a.top);
        }
        ctx.restore();
        ctx.save();
        ctx.strokeStyle = GRID_COLOR;
        ctx.lineWidth = 1;
        ctx.setLineDash([5, 3]);
        for (const v of Y_GRID) {
          const y = Math.round(ys.getPixelForValue(v)) + 0.5;
          ctx.beginPath();
          ctx.moveTo(a.left, y);
          ctx.lineTo(a.right, y);
          ctx.stroke();
        }
        ctx.restore();
      },
      afterDraw(chart: any) {
        const { ctx, chartArea: a } = chart;
        ctx.save();
        ctx.fillStyle = TEXT_COLOR;
        ctx.textAlign = "center";
        ctx.textBaseline = "middle";
        ctx.font = `bold 14.5px ${FONT}`;
        const cx = (a.left + a.right) / 2;
        ctx.fillText(TITLE_LINE_1, cx, a.top - 46);
        ctx.fillText(p.subtitle, cx, a.top - 29);
        ctx.textAlign = "left";
        ctx.font = `13px ${FONT}`;
        ctx.fillText(p.q20, a.left + 11, a.top + 13);
        ctx.restore();
      },
    };
    const chart = new Chart(canvas, {
      type: "line",
      data: { datasets: buildDatasets(p) },
      options: {
        responsive: false,
        animation: false,
        events: [],
        layout: { padding: { top: PAD_TOP, right: PAD_RIGHT, left: 0, bottom: 0 } },
        plugins: { legend: { display: false }, tooltip: { enabled: false }, title: { display: false } },
        scales: {
          x: {
            type: "linear",
            min: X_MIN,
            max: X_MAX,
            afterBuildTicks: (s: any) => { s.ticks = X_TICKS.map((v) => ({ value: v })); },
            afterFit: (s: any) => { s.height = X_AXIS_H; },
            ticks: { callback: (v: any) => String(v), color: TEXT_COLOR, font: { family: FONT, size: 14 }, padding: 2, maxRotation: 0, autoSkip: false },
            grid: { drawOnChartArea: false, drawTicks: true, tickLength: 5, tickColor: AXIS_COLOR, tickWidth: 1.2 },
            border: { display: true, color: AXIS_COLOR, width: 1.4 },
            title: { display: true, text: X_TITLE, color: TEXT_COLOR, font: { family: FONT, size: 18.5, lineHeight: 1.2 }, padding: { top: 0, bottom: 1 } },
          },
          y: {
            type: "linear",
            min: 0,
            max: 100,
            afterBuildTicks: (s: any) => { s.ticks = Y_TICKS.map((v) => ({ value: v })); },
            afterFit: (s: any) => { s.width = Y_AXIS_W; },
            ticks: { callback: (v: any) => String(v), color: TEXT_COLOR, font: { family: FONT, size: 14 }, padding: 4 },
            grid: { drawOnChartArea: false, drawTicks: true, tickLength: 5, tickColor: AXIS_COLOR, tickWidth: 1.2 },
            border: { display: true, color: AXIS_COLOR, width: 1.4 },
            title: { display: true, text: Y_TITLE, color: TEXT_COLOR, font: { family: FONT, size: 18.5, lineHeight: 1.25 }, padding: { top: 8.5, bottom: 0 } },
          },
        },
      } as any,
      plugins: [decor],
    });
    return () => chart.destroy();
  }, [p]);
  return (
    <div style={{ position: "absolute", left: p.left, top: p.top, width: CANVAS_W, height: CANVAS_H }}>
      <canvas ref={ref} width={CANVAS_W} height={CANVAS_H} style={{ width: CANVAS_W, height: CANVAS_H, display: "block" }} />
    </div>
  );
}

export default function App() {
  return (
    <div style={{ position: "absolute", left: 0, top: 0, width: 1226, height: 926, background: "#ffffff", overflow: "hidden" }}>
      {PANELS.map((p, i) => (
        <ChartPanel key={i} p={p} />
      ))}
    </div>
  );
}
